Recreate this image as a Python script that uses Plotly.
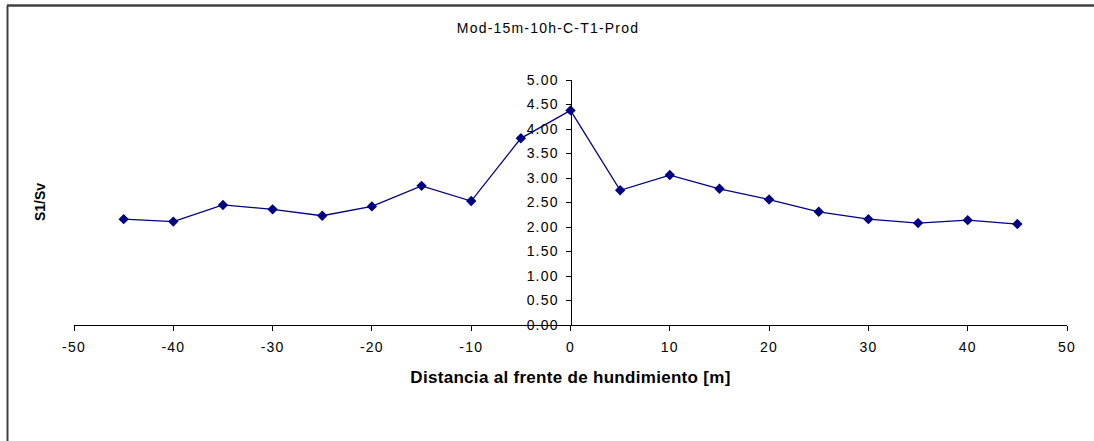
import plotly.graph_objects as go

title_text = "Mod-15m-10h-C-T1-Prod"
x_title = "Distancia al frente de hundimiento [m]"
y_title = "S1/Sv"

distance_m = [-45, -40, -35, -30, -25, -20, -15, -10, -5, 0,
              5, 10, 15, 20, 25, 30, 35, 40, 45]
s1_sv = [2.16, 2.11, 2.45, 2.36, 2.23, 2.42, 2.84, 2.53, 3.81, 4.38,
         2.75, 3.06, 2.78, 2.56, 2.31, 2.16, 2.08, 2.14, 2.06]

x_ticks = [-50, -40, -30, -20, -10, 0, 10, 20, 30, 40, 50]
y_ticks = [0, 0.5, 1, 1.5, 2, 2.5, 3, 3.5, 4, 4.5, 5]

W, H = 1094, 441
L, R, T, B = 74, 27, 80, 116
pw = W - L - R
ph = H - T - B

SP = "<span style='letter-spacing:1.2px'>{}</span>"
SPX = "<span style='letter-spacing:0.3px'>{}</span>"

fig = go.Figure()
fig.add_trace(go.Scatter(
    x=distance_m, y=s1_sv, mode="lines+markers",
    line=dict(color="#000080", width=1.3),
    marker=dict(symbol="diamond", size=8, color="#000080"),
    showlegend=False, cliponaxis=False,
))

font_family = "Liberation Sans, Arial, sans-serif"

fig.update_layout(
    width=W, height=H,
    margin=dict(l=L, r=R, t=T, b=B),
    paper_bgcolor="white", plot_bgcolor="white",
    font=dict(family=font_family, size=14, color="black"),
    title=dict(text=SP.format(title_text), x=(548 - L) / pw, xref="paper",
               xanchor="center",
               y=1 - 28 / H, yanchor="middle",
               font=dict(size=14, family=font_family, color="black")),
    xaxis=dict(
        range=[-50, 50], tickvals=x_ticks, ticktext=[SP.format(v) for v in x_ticks],
        showgrid=False, zeroline=False, showline=True, linecolor="black", linewidth=1,
        ticks="outside", ticklen=5, tickcolor="black", tickwidth=1,
        ticklabelstandoff=4,
        tickfont=dict(size=14),
        title=dict(text="<b>" + SPX.format(x_title) + "</b>", standoff=17,
                   font=dict(size=17)),
    ),
    yaxis=dict(
        range=[0, 5], tickvals=y_ticks, ticktext=[SP.format(f"{v:.2f}") for v in y_ticks],
        anchor="free", position=0.5, side="left",
        showgrid=False, zeroline=False, showline=True, linecolor="black", linewidth=1,
        ticks="outside", ticklen=5, tickcolor="black", tickwidth=1,
        ticklabelstandoff=4,
        tickfont=dict(size=14),
    ),
    annotations=[dict(
        text="<b>" + y_title + "</b>", xref="paper", yref="paper",
        x=(40 - L) / pw, y=(325 - 202) / ph, textangle=-90,
        showarrow=False, font=dict(size=14, family=font_family, color="black"),
        xanchor="center", yanchor="middle",
    )],
    shapes=[
        dict(type="line", xref="paper", yref="paper",
             x0=(7 - L) / pw, x1=(W + 5 - L) / pw,
             y0=(H - B - 5.5) / ph, y1=(H - B - 5.5) / ph,
             line=dict(color="#404040", width=2.5)),
        dict(type="line", xref="paper", yref="paper",
             x0=(7.5 - L) / pw, x1=(7.5 - L) / pw,
             y0=(H - B - 5.5) / ph, y1=-(B + 5) / ph,
             line=dict(color="#404040", width=2)),
    ],
)

fig.write_html("out.html")
